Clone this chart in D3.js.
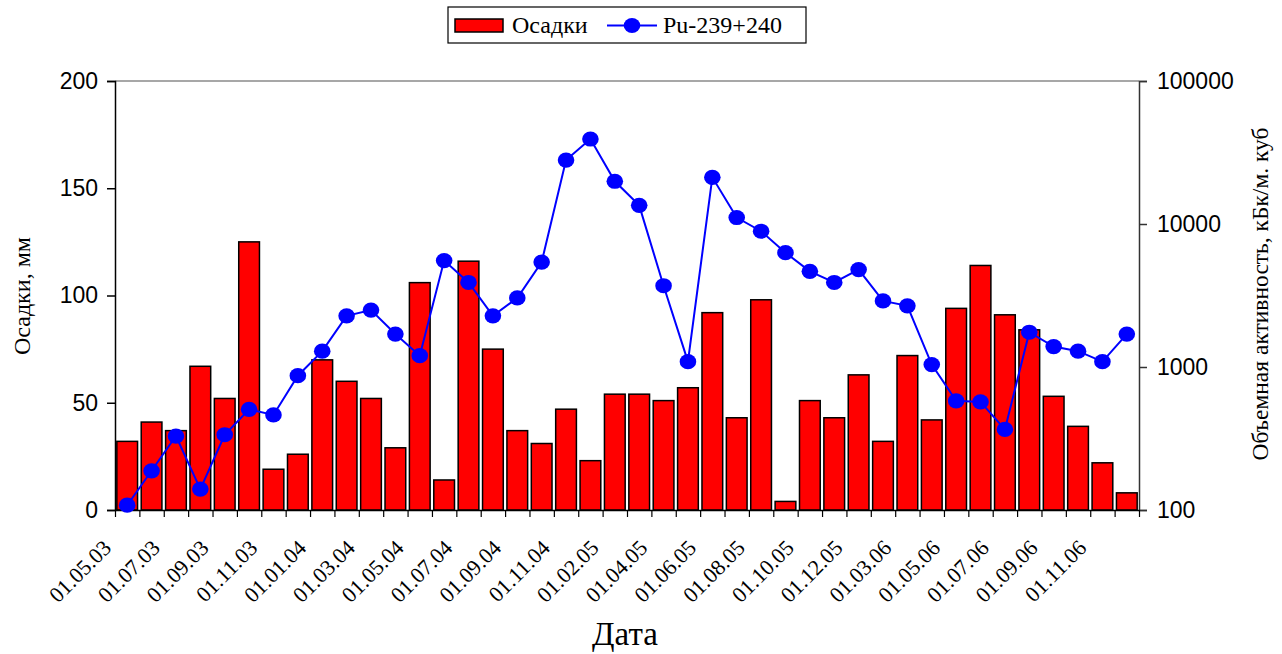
<!DOCTYPE html>
<html>
<head>
<meta charset="utf-8">
<script src="https://cdn.jsdelivr.net/npm/d3@7"></script>
<style>
  html, body { margin: 0; padding: 0; background: #fff; }
  svg { display: block; }
</style>
</head>
<body>
<svg id="chart" width="1282" height="654"></svg>
<script>
const dates = [
  '01.05.03', '01.06.03', '01.07.03', '01.08.03', '01.09.03', '01.10.03', '01.11.03', '01.12.03',
  '01.01.04', '01.02.04', '01.03.04', '01.04.04', '01.05.04', '01.06.04', '01.07.04', '01.08.04',
  '01.09.04', '01.10.04', '01.11.04', '01.12.04', '01.02.05', '01.03.05', '01.04.05', '01.05.05',
  '01.06.05', '01.07.05', '01.08.05', '01.09.05', '01.10.05', '01.11.05', '01.12.05', '01.02.06',
  '01.03.06', '01.04.06', '01.05.06', '01.06.06', '01.07.06', '01.08.06', '01.09.06', '01.10.06',
  '01.11.06', '01.12.06'
];

// precipitation, mm
const precip = [
  32, 41, 37, 67, 52, 125, 19, 26, 70, 60, 52, 29, 106, 14, 116, 75,
  37, 31, 47, 23, 54, 54, 51, 57, 92, 43, 98, 4, 51, 43, 63, 32,
  72, 42, 94, 114, 91, 84, 53, 39, 22, 8
];

// Pu-239+240 volume activity
const pu = [
  108, 188, 329, 140, 336, 506, 462, 869, 1290, 2280, 2500, 1700, 1200, 5550, 3900, 2280,
  3040, 5420, 28000, 39300, 19900, 13500, 3700, 1090, 21200, 11100, 8900, 6300, 4670, 3900, 4800, 2900,
  2680, 1040, 580, 570, 366, 1750, 1390, 1290, 1090, 1700
];

const leftTicks = [0, 50, 100, 150, 200];
const rightTicks = [100, 1000, 10000, 100000];

const SERIF = "'Liberation Serif', 'DejaVu Serif', serif";
const SANS = "'Liberation Sans', Arial, sans-serif";

const margin = { left: 115, right: 1139, top: 81, bottom: 510 };
const svg = d3.select('#chart');

const x = d3.scaleBand()
  .domain(dates)
  .range([margin.left, margin.right])
  .paddingInner(0.15)
  .paddingOuter(0.075);

const xEdge = d3.scaleLinear().domain([0, dates.length]).range([margin.left, margin.right]);
const yLeft = d3.scaleLinear().domain([0, 200]).range([margin.bottom, margin.top]);
const yRight = d3.scaleLog().domain([100, 100000]).range([margin.bottom, margin.top]);

// top border
svg.append('line')
  .attr('x1', margin.left).attr('x2', margin.right)
  .attr('y1', margin.top).attr('y2', margin.top)
  .attr('stroke', '#8a8a8a').attr('stroke-width', 1.5);

// bars
svg.append('g')
  .selectAll('rect')
  .data(precip)
  .join('rect')
  .attr('x', (d, i) => x(dates[i]))
  .attr('y', (d) => yLeft(d))
  .attr('width', x.bandwidth())
  .attr('height', (d) => yLeft(0) - yLeft(d))
  .attr('fill', '#ff0000')
  .attr('stroke', '#000')
  .attr('stroke-width', 1.5);

// left axis
const gLeft = svg.append('g')
  .attr('transform', `translate(${margin.left},0)`)
  .call(d3.axisLeft(yLeft).tickValues(leftTicks).tickSize(8).tickPadding(9));
gLeft.select('.domain').attr('stroke', '#000').attr('stroke-width', 1.5);
gLeft.selectAll('.tick line').attr('stroke', '#000').attr('stroke-width', 1.5);
gLeft.selectAll('.tick text').attr('font-size', 23).attr('fill', '#000').style('font-family', SANS);

// right axis
const gRight = svg.append('g')
  .attr('transform', `translate(${margin.right},0)`)
  .call(d3.axisRight(yRight).tickValues(rightTicks).tickFormat(d3.format('d')).tickSize(8).tickPadding(10));
gRight.select('.domain').attr('stroke', '#333').attr('stroke-width', 1.5);
gRight.selectAll('.tick line').attr('stroke', '#333').attr('stroke-width', 1.5);
gRight.selectAll('.tick text').attr('font-size', 23).attr('fill', '#000').style('font-family', SANS);

// bottom axis: ticks at category boundaries
const gBottom = svg.append('g')
  .attr('transform', `translate(0,${margin.bottom})`)
  .call(d3.axisBottom(xEdge).tickValues(d3.range(dates.length + 1)).tickFormat('').tickSize(7).tickSizeOuter(0));
gBottom.select('.domain').attr('stroke', '#000').attr('stroke-width', 1.5);
gBottom.selectAll('.tick line').attr('stroke', '#000').attr('stroke-width', 1.2);

// rotated date labels on every second category
svg.append('g')
  .selectAll('text')
  .data(dates.filter((d, i) => i % 2 === 0))
  .join('text')
  .attr('transform', (d) => `translate(${x(d) + x.bandwidth() / 2 - 20},${margin.bottom + 34}) rotate(-45)`)
  .attr('text-anchor', 'end')
  .attr('dominant-baseline', 'central')
  .style('font-family', SERIF)
  .attr('font-size', 22)
  .attr('fill', '#000')
  .text((d) => d);

// Pu line and markers
const cx = (i) => x(dates[i]) + x.bandwidth() / 2;
const line = d3.line()
  .x((d, i) => cx(i))
  .y((d) => yRight(d));

svg.append('path')
  .datum(pu)
  .attr('d', line)
  .attr('fill', 'none')
  .attr('stroke', '#0000ff')
  .attr('stroke-width', 2);

svg.append('g')
  .selectAll('ellipse')
  .data(pu)
  .join('ellipse')
  .attr('cx', (d, i) => cx(i))
  .attr('cy', (d) => yRight(d))
  .attr('rx', 8.3)
  .attr('ry', 7.6)
  .attr('fill', '#0000ff');

// axis titles
svg.append('text')
  .attr('transform', 'translate(30,296) rotate(-90)')
  .attr('text-anchor', 'middle')
  .style('font-family', SERIF)
  .attr('font-size', 24)
  .text('Осадки, мм');

svg.append('text')
  .attr('transform', 'translate(1268,294) rotate(-90)')
  .attr('text-anchor', 'middle')
  .style('font-family', SERIF)
  .attr('font-size', 23.5)
  .text('Объемная активность, кБк/м. куб');

svg.append('text')
  .attr('x', 625)
  .attr('y', 645)
  .attr('text-anchor', 'middle')
  .style('font-family', SERIF)
  .attr('font-size', 33)
  .text('Дата');

// legend
const legend = svg.append('g');
legend.append('rect')
  .attr('x', 448).attr('y', 7).attr('width', 358).attr('height', 36)
  .attr('fill', '#fff').attr('stroke', '#000').attr('stroke-width', 1.2);
legend.append('rect')
  .attr('x', 455).attr('y', 19).attr('width', 48).attr('height', 13)
  .attr('fill', '#ff0000').attr('stroke', '#000').attr('stroke-width', 1.5);
legend.append('text')
  .attr('x', 512).attr('y', 33).style('font-family', SERIF).attr('font-size', 24).text('Осадки');
legend.append('line')
  .attr('x1', 607).attr('x2', 657).attr('y1', 25.5).attr('y2', 25.5)
  .attr('stroke', '#0000ff').attr('stroke-width', 2);
legend.append('ellipse')
  .attr('cx', 632).attr('cy', 25.5).attr('rx', 8.3).attr('ry', 7.6).attr('fill', '#0000ff');
legend.append('text')
  .attr('x', 663).attr('y', 33).style('font-family', SERIF).attr('font-size', 24).text('Pu-239+240');
</script>
</body>
</html>
